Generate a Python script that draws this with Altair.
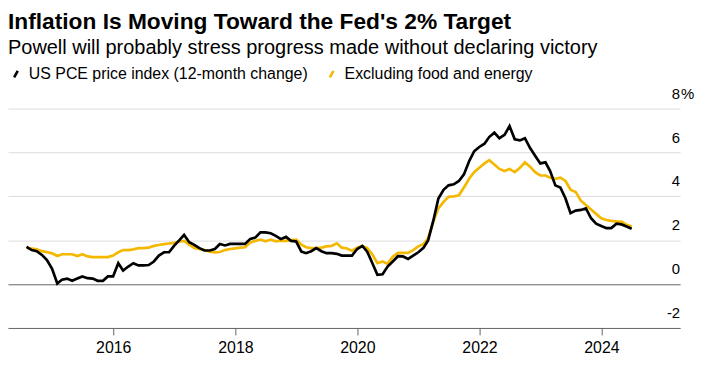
import altair as alt
import pandas as pd

FONT = "Liberation Sans"

SERIES = ["US PCE price index (12-month change)", "Excluding food and energy"]
COLORS = ["#000000", "#f5b800"]

# Month-end dates, Jul 2014 .. Jun 2024 (120 months)
MONTH_START = "2014-08-01"
N_MONTHS = 120

pce = [
    1.7, 1.55, 1.5, 1.33, 1.1, 0.7,
    0.03, 0.2, 0.25, 0.15, 0.25, 0.35, 0.27, 0.25, 0.15, 0.15, 0.35, 0.35,
    0.95, 0.62, 0.8, 0.95, 0.85, 0.85, 0.87, 1.03, 1.3, 1.45, 1.45, 1.75,
    2.0, 2.24, 1.91, 1.79, 1.64, 1.53, 1.53, 1.6, 1.83, 1.76, 1.83, 1.83,
    1.83, 1.83, 2.06, 2.12, 2.36, 2.36, 2.32, 2.2, 2.05, 2.15, 1.97, 1.94,
    1.48, 1.41, 1.5, 1.64, 1.5, 1.41, 1.41, 1.38, 1.3, 1.3, 1.3, 1.6,
    1.74, 1.48, 0.95, 0.42, 0.45, 0.8, 1.03, 1.27, 1.26, 1.15, 1.3, 1.45,
    1.65, 2.0, 2.9, 3.9, 4.3, 4.5, 4.55, 4.7, 5.0, 5.6, 6.05, 6.25,
    6.4, 6.7, 6.9, 6.65, 6.8, 7.2, 6.6, 6.55, 6.65, 6.2, 5.85, 5.5,
    5.55, 5.15, 4.5, 4.4, 3.9, 3.23, 3.35, 3.38, 3.45, 3.0, 2.75, 2.65,
    2.55, 2.55, 2.75, 2.72, 2.62, 2.52,
]

core = [
    1.65, 1.62, 1.58, 1.5, 1.46, 1.4,
    1.28, 1.36, 1.36, 1.36, 1.28, 1.36, 1.26, 1.23, 1.23, 1.23, 1.23, 1.3,
    1.45, 1.55, 1.55, 1.58, 1.64, 1.64, 1.66, 1.74, 1.78, 1.82, 1.85, 1.88,
    1.94, 1.97, 1.8, 1.65, 1.6, 1.55, 1.48, 1.44, 1.46, 1.55, 1.6, 1.63,
    1.66, 1.68, 1.9, 1.97, 2.03, 1.95, 2.03, 1.95, 1.98, 1.97, 2.0, 2.03,
    1.8, 1.68, 1.64, 1.64, 1.66, 1.72, 1.74, 1.86, 1.66, 1.62, 1.52, 1.66,
    1.74, 1.64, 1.35, 0.95, 1.03, 0.92, 1.25, 1.42, 1.42, 1.42, 1.55, 1.72,
    1.82, 2.1, 2.85, 3.45, 3.75, 3.98, 4.0, 4.05, 4.4, 4.8, 5.1, 5.3,
    5.5, 5.65, 5.45, 5.25, 5.15, 5.25, 5.1, 5.3, 5.55, 5.35, 5.1, 4.95,
    4.95, 4.85, 4.8, 4.85, 4.7, 4.3, 4.2, 3.8, 3.6, 3.4, 3.2, 3.0,
    2.92, 2.88, 2.85, 2.85, 2.7, 2.62,
]

Y_TICKS = [-2, 0, 2, 4, 6, 8]
Y_LABELS = ["-2", "0", "2", "4", "6", "8"]
UNIT = "%"
X_TICK_YEARS = [2016, 2018, 2020, 2022, 2024]

W, H = 677, 221

dates = (pd.date_range(MONTH_START, periods=N_MONTHS, freq="MS") - pd.Timedelta(days=1)).strftime("%Y-%m-%d").tolist()

df = pd.concat([
    pd.DataFrame({"date": dates, "value": pce, "series": SERIES[0]}),
    pd.DataFrame({"date": dates, "value": core, "series": SERIES[1]}),
])
ticks_df = pd.DataFrame({"value": Y_TICKS, "label": Y_LABELS})
unit_df = pd.DataFrame({"value": [max(Y_TICKS)], "label": [UNIT]})

x_enc = alt.X(
    "date:T",
    scale=alt.Scale(domain=[alt.DateTime(year=2014, month=4, date=11),
                            alt.DateTime(year=2025, month=4, date=16)]),
    axis=alt.Axis(
        values=[alt.DateTime(year=y, month=1, date=1) for y in X_TICK_YEARS],
        format="%Y", title=None, grid=False,
        domainColor="#666666", domainWidth=1,
        tickColor="#666666", tickSize=7, tickWidth=1,
        labelFontSize=16, labelFont=FONT, labelColor="#000000",
        labelPadding=5, labelFlush=False,
    ),
)

y_scale = alt.Scale(domain=[-2, 8], nice=False, zero=False)

y_enc = alt.Y(
    "value:Q",
    scale=y_scale,
    axis=alt.Axis(
        orient="right", values=Y_TICKS, title=None,
        domain=False, ticks=False, labels=False,
        gridColor={"condition": {"test": "datum.value == 0", "value": "#666666"}, "value": "#dcdcdc"},
        gridWidth=1,
    ),
)

color_enc = alt.Color(
    "series:N",
    scale=alt.Scale(domain=SERIES, range=COLORS),
    legend=alt.Legend(
        title=None, orient="none", legendX=0, legendY=-43, direction="horizontal",
        symbolType="M-0.52,0.93L0.52,-0.93", symbolSize=49, symbolStrokeWidth=2.6,
        labelFontSize=16, labelFont=FONT, labelColor="#000000", labelOffset=5,
        labelLimit=400, columnPadding=15, padding=0,
    ),
)

base = alt.Chart(df).encode(x=x_enc, y=y_enc, color=color_enc)

core_line = base.transform_filter(alt.datum.series == SERIES[1]).mark_line(strokeWidth=2.7)
pce_line = base.transform_filter(alt.datum.series == SERIES[0]).mark_line(strokeWidth=2.7)

tick_labels = alt.Chart(ticks_df).mark_text(
    align="right", baseline="alphabetic", dy=-10, font=FONT, fontSize=15, color="#000000"
).encode(
    x=alt.value(W),
    y=alt.Y("value:Q", scale=y_scale),
    text="label:N",
)

unit_label = alt.Chart(unit_df).mark_text(
    align="left", baseline="alphabetic", dy=-10, dx=1, font=FONT, fontSize=15, color="#000000"
).encode(
    x=alt.value(W),
    y=alt.Y("value:Q", scale=y_scale),
    text="label:N",
)

chart = alt.layer(core_line, pce_line, tick_labels, unit_label).properties(
    width=W,
    height=H,
    padding={"left": 0, "top": 100, "right": 18, "bottom": 35},
    autosize=alt.AutoSizeParams(type="none"),
    title=alt.TitleParams(
        text="Inflation Is Moving Toward the Fed's 2% Target",
        subtitle="Powell will probably stress progress made without declaring victory",
        anchor="start", frame="group", orient="top",
        font=FONT, fontSize=22.9, fontWeight="bold", color="#000000",
        subtitleFont=FONT, subtitleFontSize=20.1, subtitleColor="#000000",
        subtitlePadding=4, offset=8,
    ),
).configure_view(stroke=None)

chart.save("out.html", embed_options={"renderer": "svg", "actions": False})
